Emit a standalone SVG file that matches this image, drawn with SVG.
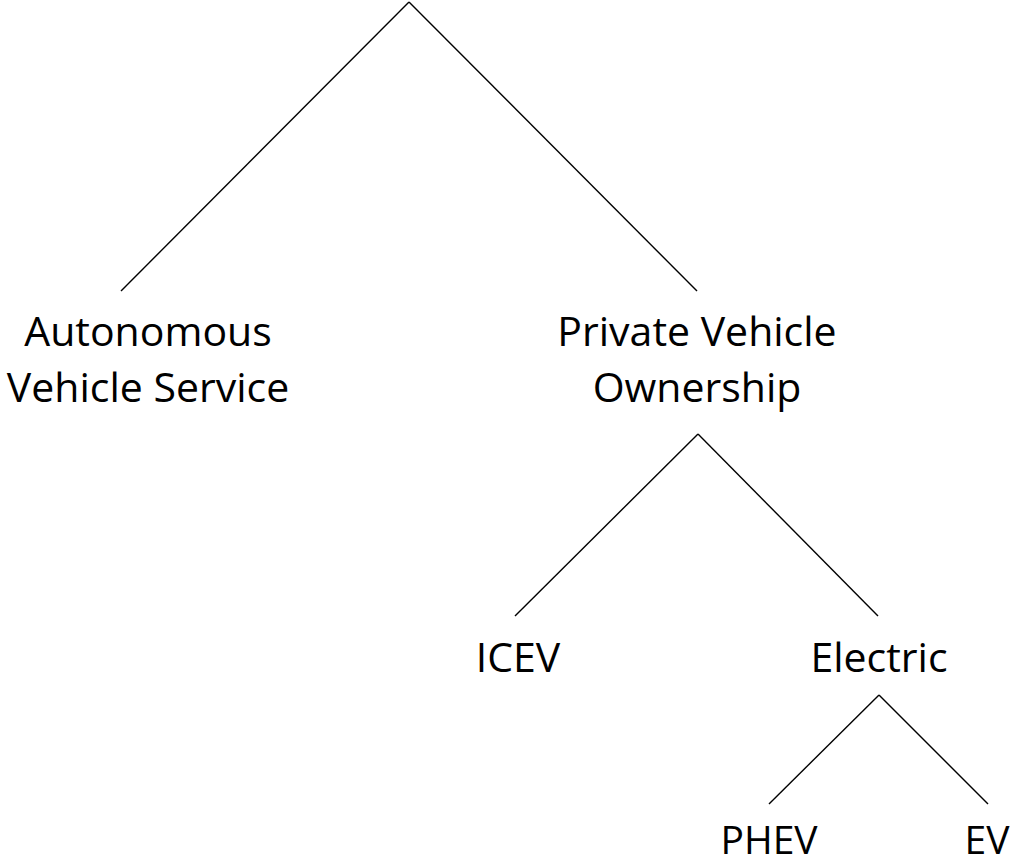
<svg xmlns="http://www.w3.org/2000/svg" width="1017" height="863" viewBox="0 0 1017 863">
<style>
.c{stroke:#000;stroke-width:1.4;fill:none}
text{font-family:"Open Sans","Liberation Sans",sans-serif;font-size:41px;fill:#000;text-anchor:middle}
.s{font-size:39px}
</style>
<rect width="1017" height="863" fill="#fff"/>
<g id="connectors">
<line class="c" x1="409" y1="2" x2="121" y2="291"/>
<line class="c" x1="409" y1="2" x2="697" y2="291"/>
<line class="c" x1="698" y1="434" x2="515" y2="616"/>
<line class="c" x1="698" y1="434" x2="878" y2="616"/>
<line class="c" x1="879" y1="695" x2="769" y2="804"/>
<line class="c" x1="879" y1="695" x2="988" y2="804"/>
</g>
<g id="autonomous"><text x="148" y="346">Autonomous</text><text x="148" y="402">Vehicle Service</text></g>
<g id="private"><text x="697" y="346">Private Vehicle</text><text x="697" y="402">Ownership</text></g>
<g id="icev"><text x="518" y="672">ICEV</text></g>
<g id="electric"><text x="879" y="672">Electric</text></g>
<g id="phev"><text class="s" x="769" y="854">PHEV</text></g>
<g id="ev"><text class="s" x="987" y="854">EV</text></g>
</svg>
